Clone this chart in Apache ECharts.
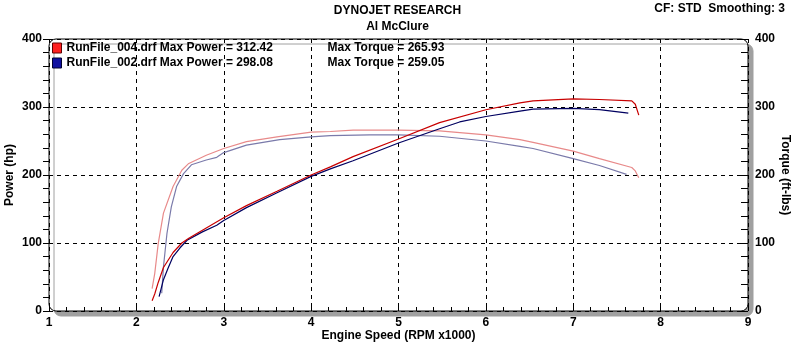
<!DOCTYPE html>
<html>
<head>
<meta charset="utf-8">
<script src="https://cdn.jsdelivr.net/npm/echarts@6/dist/echarts.min.js"></script>
<style>
html,body{margin:0;padding:0;background:#fff;}
#chart{width:795px;height:343px;}
</style>
</head>
<body>
<div id="chart"></div>
<script>
// ---- Data (RPM x1000, hp, ft-lbs) ----
const xTicks = [1, 2, 3, 4, 5, 6, 7, 8, 9];
const yTicks = [0, 100, 200, 300, 400];

const run004Rpm    = [2.18, 2.21, 2.25, 2.31, 2.42, 2.52, 2.60, 2.80, 3.00, 3.26, 3.61, 4.00, 4.22, 4.48, 5.00, 5.47, 6.00, 6.39, 6.54, 7.00, 7.30, 7.67, 7.71, 7.75];
const run004Power  = [15, 25, 42, 64, 86, 100, 107, 122, 137, 155, 176, 200, 212, 227, 253, 277, 296, 306, 309, 312, 311, 309, 304, 288];
const run004Torque = [33, 55, 99, 144, 183, 207, 217, 229, 239, 249, 256, 263, 264, 266, 266, 265, 259, 252, 248, 235, 224, 211, 206, 196];

const run002PowerRpm  = [2.26, 2.31, 2.36, 2.42, 2.50, 2.58, 2.75, 2.92, 3.00, 3.26, 3.61, 4.00, 4.22, 4.48, 5.00, 5.47, 5.70, 6.00, 6.39, 6.54, 7.00, 7.30, 7.63];
const run002Power     = [21, 46, 62, 80, 93, 104, 116, 126, 133, 152, 174, 198, 209, 221, 247, 268, 278, 286, 294, 297, 298, 296, 291];
const run002TorqueRpm = [2.29, 2.31, 2.35, 2.40, 2.46, 2.54, 2.63, 2.80, 2.92, 3.00, 3.26, 3.64, 4.00, 4.22, 4.67, 5.00, 5.47, 6.00, 6.39, 6.54, 7.00, 7.30, 7.61];
const run002Torque    = [26, 65, 114, 153, 183, 202, 215, 222, 226, 233, 244, 252, 256, 258, 259, 259, 257, 250, 242, 239, 224, 214, 201];

const legendNames = ['RunFile_004.drf', 'RunFile_002.drf'];
const maxPower  = ['312.42', '298.08'];
const maxTorque = ['265.93', '259.05'];

function pairs(xs, ys) { return xs.map((x, i) => [x, ys[i]]); }

const FONT = '"Liberation Sans", Arial, sans-serif';
const C_RED_P = '#c80000', C_RED_T = '#e88a8a', C_BLU_P = '#000060', C_BLU_T = '#7a7aaa';

const chart = echarts.init(document.getElementById('chart'), null, {renderer: 'canvas'});

const GL = 49, GT = 39, GR = 47, GB = 32;
const W = 795, H = 343;
const nameStyle = {fontFamily: FONT, fontWeight: 'bold', fontSize: 12, color: '#000'};

chart.setOption({
  animation: false,
  backgroundColor: '#ffffff',
  textStyle: {fontFamily: FONT},
  title: {
    text: 'DYNOJET RESEARCH',
    subtext: 'Al McClure',
    left: 'center',
    top: 0,
    itemGap: 4,
    textStyle: nameStyle,
    subtextStyle: nameStyle
  },
  graphic: [
    {
      type: 'rect', z: -10, silent: true,
      shape: {x: GL, y: GT, width: W - GL - GR, height: H - GT - GB, r: 7},
      style: {fill: '#fff', stroke: '#000', lineWidth: 1,
              shadowColor: '#a0a0a0', shadowOffsetX: 5, shadowOffsetY: 5, shadowBlur: 0}
    },
    {
      type: 'text', right: 10, top: 3,
      style: {text: 'CF: STD  Smoothing: 3', font: 'bold 12px ' + FONT, fill: '#000'}
    }
  ],
  legend: {
    orient: 'vertical',
    left: 52, top: 42, padding: 0,
    itemWidth: 9, itemHeight: 10, itemGap: 3,
    icon: 'rect',
    data: [
      {name: legendNames[0], itemStyle: {color: '#ff2020', borderColor: '#600000', borderWidth: 1}},
      {name: legendNames[1], itemStyle: {color: '#1010a0', borderColor: '#000030', borderWidth: 1}}
    ],
    formatter: function (name) {
      const i = legendNames.indexOf(name);
      return '{a|' + name + ' Max Power = ' + maxPower[i] + '}{b|Max Torque = ' + maxTorque[i] + '}';
    },
    textStyle: {
      fontFamily: FONT, fontWeight: 'bold', fontSize: 12, color: '#000',
      rich: {
        a: {width: 261, fontFamily: FONT, fontWeight: 'bold', fontSize: 12, color: '#000'},
        b: {fontFamily: FONT, fontWeight: 'bold', fontSize: 12, color: '#000'}
      }
    },
    selectedMode: false
  },
  grid: {left: GL, right: GR, top: GT, bottom: GB, containLabel: false, outerBoundsMode: 'none'},
  xAxis: {
    type: 'value', min: xTicks[0], max: xTicks[xTicks.length - 1], interval: 1,
    name: 'Engine Speed (RPM x1000)', nameLocation: 'middle', nameGap: 19, nameMoveOverlap: false,
    nameTextStyle: nameStyle,
    axisLine: {show: false},
    axisTick: {show: true, inside: true, length: 4, lineStyle: {color: '#000'}},
    minorTick: {show: true, splitNumber: 5, length: 4, lineStyle: {color: '#000'}},
    axisLabel: {margin: 6, fontFamily: FONT, fontWeight: 'bold', fontSize: 12, color: '#000'},
    splitLine: {show: true, lineStyle: {color: '#000', type: [4, 4], width: 1}},
    minorSplitLine: {show: false}
  },
  yAxis: [
    {
      type: 'value', min: yTicks[0], max: yTicks[yTicks.length - 1], interval: 100,
      position: 'left',
      name: 'Power (hp)', nameLocation: 'middle', nameGap: 33, nameRotate: 90, nameMoveOverlap: false,
      nameTextStyle: nameStyle,
      axisLine: {show: false},
      axisTick: {show: true, inside: false, length: 6, lineStyle: {color: '#000'}},
      minorTick: {show: true, splitNumber: 5, length: 6, lineStyle: {color: '#000'}},
      axisLabel: {margin: 7, fontFamily: FONT, fontWeight: 'bold', fontSize: 12, color: '#000'},
      splitLine: {show: true, lineStyle: {color: '#000', type: [4, 4], width: 1}}
    },
    {
      type: 'value', min: yTicks[0], max: yTicks[yTicks.length - 1], interval: 100,
      position: 'right',
      name: 'Torque (ft-lbs)', nameLocation: 'middle', nameGap: 31, nameRotate: -90, nameMoveOverlap: false,
      nameTextStyle: nameStyle,
      axisLine: {show: false},
      axisTick: {show: true, inside: true, length: 7, lineStyle: {color: '#000'}},
      minorTick: {show: true, splitNumber: 5, length: 7, lineStyle: {color: '#000'}},
      axisLabel: {margin: 7, fontFamily: FONT, fontWeight: 'bold', fontSize: 12, color: '#000'},
      splitLine: {show: false}
    }
  ],
  series: [
    {name: legendNames[0], type: 'line', yAxisIndex: 0, showSymbol: false, symbol: 'none',
     data: pairs(run004Rpm, run004Power), lineStyle: {color: C_RED_P, width: 1.2}, itemStyle: {color: C_RED_P}, z: 4},
    {name: legendNames[1], type: 'line', yAxisIndex: 0, showSymbol: false, symbol: 'none',
     data: pairs(run002PowerRpm, run002Power), lineStyle: {color: C_BLU_P, width: 1.2}, itemStyle: {color: C_BLU_P}, z: 3},
    {name: legendNames[0] + ' torque', type: 'line', yAxisIndex: 1, showSymbol: false, symbol: 'none',
     data: pairs(run004Rpm, run004Torque), lineStyle: {color: C_RED_T, width: 1.2}, itemStyle: {color: C_RED_T}, z: 2},
    {name: legendNames[1] + ' torque', type: 'line', yAxisIndex: 1, showSymbol: false, symbol: 'none',
     data: pairs(run002TorqueRpm, run002Torque), lineStyle: {color: C_BLU_T, width: 1.2}, itemStyle: {color: C_BLU_T}, z: 1}
  ]
});
</script>
</body>
</html>
